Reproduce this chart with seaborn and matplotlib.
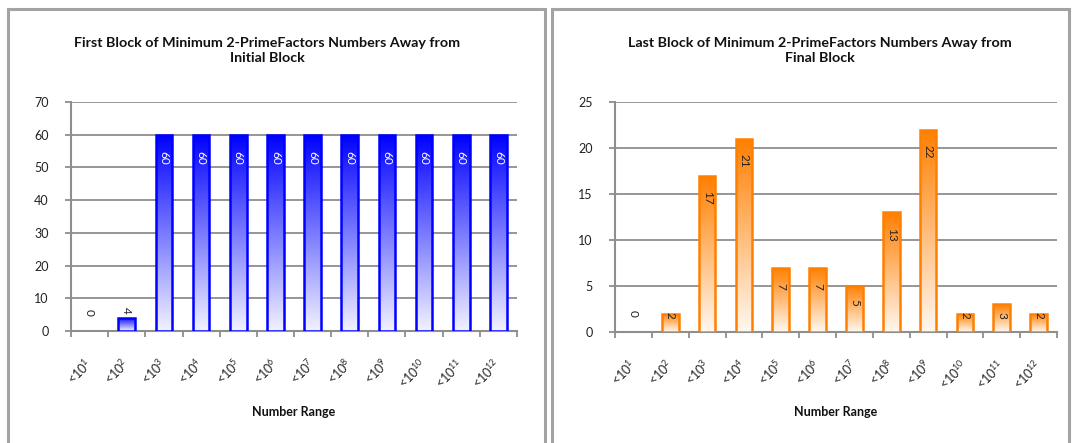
import numpy as np
import pandas as pd
import matplotlib.pyplot as plt
import seaborn as sns
from matplotlib.colors import LinearSegmentedColormap
from matplotlib.patches import Rectangle

# ---- data ----
ranges = [r'<10$^{1}$', r'<10$^{2}$', r'<10$^{3}$', r'<10$^{4}$', r'<10$^{5}$', r'<10$^{6}$',
          r'<10$^{7}$', r'<10$^{8}$', r'<10$^{9}$', r'<10$^{10}$', r'<10$^{11}$', r'<10$^{12}$']
first_block = [0, 4, 60, 60, 60, 60, 60, 60, 60, 60, 60, 60]
last_block = [0, 2, 17, 21, 7, 7, 5, 13, 22, 2, 3, 2]

title_first = 'First Block of Minimum 2-PrimeFactors Numbers Away from\nInitial Block'
title_last = 'Last Block of Minimum 2-PrimeFactors Numbers Away from\nFinal Block'

sns.set_theme(style='white')
plt.rcParams['font.family'] = ['Lato', 'DejaVu Sans']
plt.rcParams['mathtext.fontset'] = 'custom'
plt.rcParams['mathtext.rm'] = 'Lato'
plt.rcParams['mathtext.it'] = 'Lato:italic'
plt.rcParams['mathtext.bf'] = 'Lato:bold'

GRID = '#8e8e8e'
W, H = 1072, 443

fig = plt.figure(figsize=(W / 100, H / 100), dpi=100)

# grey chart-area frames (Excel style)
for x0, x1 in [(8, 545), (552, 1069)]:
    fig.patches.append(Rectangle((x0 / W, -0.05), (x1 - x0) / W, 1.05 - 9 / H,
                                 transform=fig.transFigure, fill=False,
                                 edgecolor='#a3a3a3', lw=2.2))


def draw_chart(ax, values, top_col, low_col, edge_col, ymax, ystep, big_off, text_col):
    df = pd.DataFrame({'range': ranges, 'value': values})
    sns.barplot(data=df, x='range', y='value', ax=ax, color=top_col, width=0.45,
                saturation=1, zorder=3)
    ax.set_xlim(-0.5, len(values) - 0.5)
    ax.set_ylim(0, ymax)

    cmap = LinearSegmentedColormap.from_list('grad', [low_col, top_col])
    grad = np.linspace(0, 1, 256).reshape(-1, 1)
    for p in ax.patches:
        p.set_facecolor('none')
        p.set_edgecolor(edge_col)
        p.set_linewidth(1.8)
        p.set_zorder(4)
        if p.get_height() > 0:
            x0, y0 = p.get_x(), p.get_y()
            im = ax.imshow(grad, extent=[x0, x0 + p.get_width(), y0, y0 + p.get_height()],
                           origin='lower', aspect='auto', cmap=cmap, zorder=3)
            im.set_clip_path(p)
        else:
            p.set_linewidth(0)
    ax.set_xlim(-0.5, len(values) - 0.5)
    ax.set_ylim(0, ymax)

    # value labels, rotated like Excel's
    for i, v in enumerate(values):
        h_px = ax.transData.transform((0, v))[1] - ax.transData.transform((0, 0))[1]
        if v == 0 or (text_col == 'white' and v < 10):
            dy = 11 if v == 0 else 3
            ax.annotate(str(v), xy=(i, v), xytext=(0, dy), textcoords='offset points',
                        rotation=-90, rotation_mode='anchor', ha='right', va='center',
                        fontsize=8.5, color='#222222', zorder=6)
        else:
            off = -1.5 if h_px < 22 else min(big_off, h_px * 0.2)
            ax.annotate(str(v), xy=(i, v), xytext=(0, -off), textcoords='offset points',
                        rotation=-90, rotation_mode='anchor', ha='left', va='center',
                        fontsize=8.5, color=text_col, zorder=6)

    ax.set_yticks(np.arange(0, ymax + 1, ystep))
    ax.yaxis.grid(True, color=GRID, lw=1.3)
    ax.xaxis.grid(False)
    ax.set_axisbelow(True)
    for s in ['top', 'right']:
        ax.spines[s].set_visible(False)
    for s in ['left', 'bottom']:
        ax.spines[s].set_color(GRID)
        ax.spines[s].set_linewidth(1.5)

    ax.tick_params(axis='y', left=True, direction='out', length=4, width=1.3, color=GRID,
                   pad=12, labelsize=9, labelcolor='#222222')
    ax.set_xticks(np.arange(-0.5, len(values), 1), minor=True)
    ax.tick_params(axis='x', which='minor', bottom=True, direction='out', length=4,
                   width=1.3, color=GRID)
    ax.tick_params(axis='x', which='major', bottom=False, length=0, pad=22,
                   labelsize=9, labelcolor='#222222')
    for lab in ax.get_xticklabels():
        lab.set_rotation(45)
        lab.set_ha('right')
        lab.set_va('center')
        lab.set_rotation_mode('anchor')
    ax.set_xlabel('')
    ax.set_ylabel('')


ax1 = fig.add_axes([71 / W, 1 - 331 / H, (517 - 71) / W, (331 - 102) / H])
draw_chart(ax1, first_block, '#0000ff', '#f2f2ff', '#0000ff', 70, 10, 12, 'white')

ax2 = fig.add_axes([615 / W, 1 - 332 / H, (1057 - 615) / W, (332 - 102) / H])
draw_chart(ax2, last_block, '#ff7f00', '#fff8f0', '#ff8000', 25, 5, 11, '#222222')

fig.text(267 / W, 1 - 50.5 / H, title_first, ha='center', va='center',
         fontsize=10.3, fontweight='bold', linespacing=1.35, color='#111111')
fig.text(820 / W, 1 - 50.5 / H, title_last, ha='center', va='center',
         fontsize=10.3, fontweight='bold', linespacing=1.35, color='#111111')
fig.text(294 / W, 1 - 412 / H, 'Number Range', ha='center', va='center',
         fontsize=9, fontweight='bold', color='#111111')
fig.text(836 / W, 1 - 412 / H, 'Number Range', ha='center', va='center',
         fontsize=9, fontweight='bold', color='#111111')

fig.savefig('out.png', dpi=100)
